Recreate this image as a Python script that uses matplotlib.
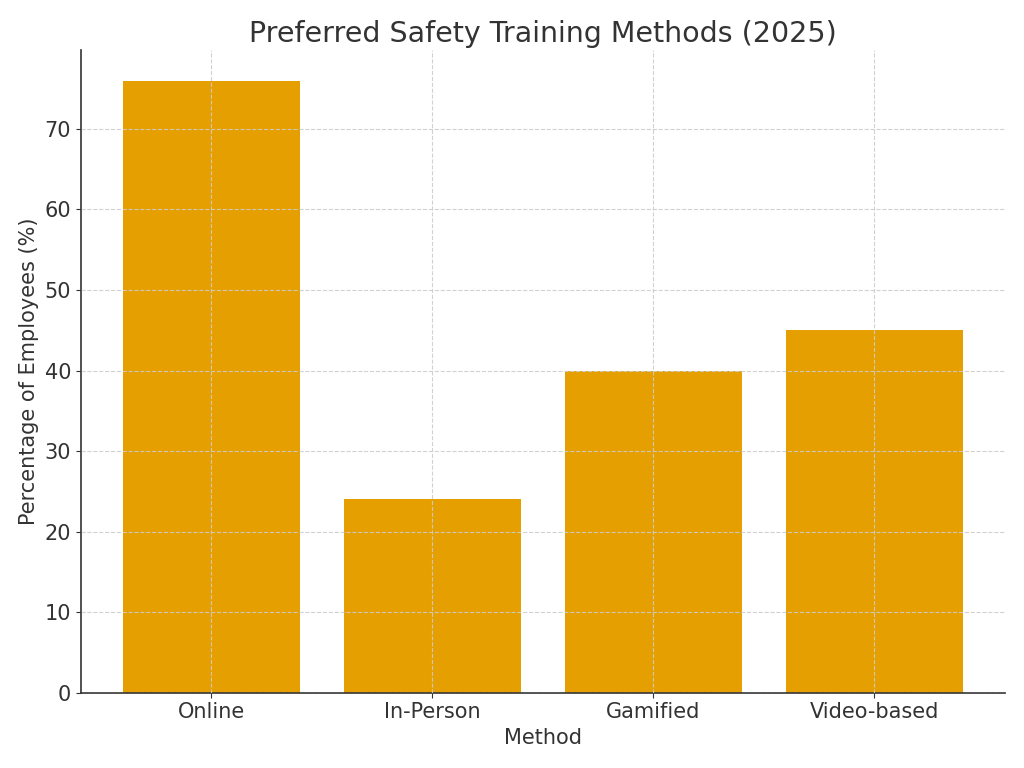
import numpy as np
import matplotlib.pyplot as plt

methods = ["Online", "In-Person", "Gamified", "Video-based"]
percentages = [76, 24, 40, 45]

bar_color = "#E69F00"
text_color = "#333333"

fig, ax = plt.subplots(figsize=(10.24, 7.68), dpi=100)
ax.bar(methods, percentages, color=bar_color, width=0.8)

ax.set_title("Preferred Safety Training Methods (2025)", fontsize=20.5, color=text_color)
ax.set_xlabel("Method", fontsize=15, color=text_color)
ax.set_ylabel("Percentage of Employees (%)", fontsize=15, color=text_color)
ax.tick_params(axis="both", labelsize=15, colors=text_color)

ax.grid(True, linestyle="--", color="#cccccc", linewidth=0.8, alpha=0.9)
ax.set_axisbelow(False)

for side in ["top", "right"]:
    ax.spines[side].set_visible(False)
for side in ["left", "bottom"]:
    ax.spines[side].set_color(text_color)
    ax.spines[side].set_linewidth(1.2)

plt.subplots_adjust(left=0.079, right=0.981, top=0.935, bottom=0.098)
plt.savefig("out.png", dpi=100)
